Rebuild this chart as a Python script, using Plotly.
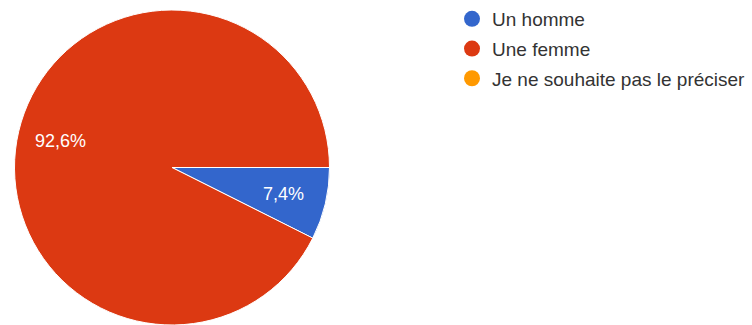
import math
import plotly.graph_objects as go

# Répartition des répondants selon le genre
labels = ["Un homme", "Une femme", "Je ne souhaite pas le préciser"]
values = [7.4, 92.6, 0]
colors = ["#3366cc", "#dc3912", "#ff9900"]

FONT = "Arial, 'Liberation Sans', sans-serif"
W, H = 752, 325
MT = 10
PLOT_H = H - MT
DOM_X = [14 / W, 330 / W]

fig = go.Figure()

fig.add_trace(go.Pie(
    labels=labels,
    values=values,
    sort=False,
    direction="clockwise",
    rotation=90,
    marker=dict(colors=colors, line=dict(color="white", width=1)),
    textinfo="none",
    hoverinfo="label+percent",
    showlegend=False,
    domain=dict(x=DOM_X, y=[0, 1]),
))

# Percentage labels placed along each slice's bisector
cx = (DOM_X[0] + DOM_X[1]) / 2 * W
radius = min((DOM_X[1] - DOM_X[0]) * W, PLOT_H) / 2
total = sum(values)
start = 0.0
for v in values:
    frac = v / total
    if frac > 0:
        theta = math.radians(90 + (start + frac / 2) * 360)
        r = 0.73 * radius
        fig.add_annotation(
            x=(cx + r * math.sin(theta)) / W,
            y=0.5 + r * math.cos(theta) / PLOT_H,
            xref="paper", yref="paper", showarrow=False,
            xanchor="center", yanchor="middle",
            text=f"{frac * 100:.1f}%".replace(".", ","),
            font=dict(color="white", size=18, family=FONT),
        )
    start += frac

# Legend entries with round markers
for name, col in zip(labels, colors):
    fig.add_trace(go.Scatter(
        x=[None], y=[None], mode="markers", name=name, legendgroup=name,
        marker=dict(symbol="circle", size=16, color=col),
    ))

fig.update_layout(
    width=W, height=H,
    margin=dict(l=0, r=0, t=MT, b=0),
    paper_bgcolor="white", plot_bgcolor="white",
    font=dict(family=FONT, size=19, color="#333333"),
    xaxis=dict(visible=False), yaxis=dict(visible=False),
    legend=dict(
        x=452 / W, y=1 + 10 / PLOT_H, xanchor="left", yanchor="top",
        tracegroupgap=2, font=dict(size=19, color="#333333"),
        bgcolor="rgba(0,0,0,0)",
    ),
)

fig.write_html("out.html")
